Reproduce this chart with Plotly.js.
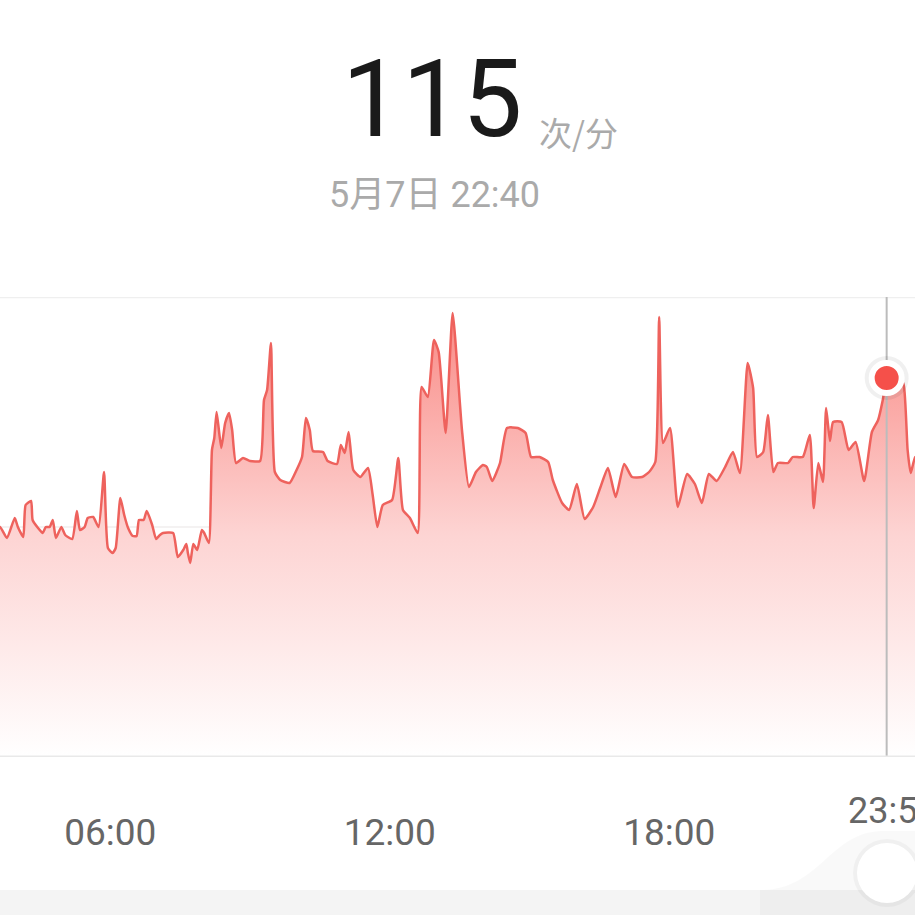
<!DOCTYPE html>
<html>
<head>
<meta charset="utf-8">
<script src="https://cdn.plot.ly/plotly-3.0.1.min.js"></script>
<style>
html,body{margin:0;padding:0;background:#fff;}
#chart{width:915px;height:915px;}
</style>
</head>
<body>
<div id="chart"></div>
<script>
// time of day in minutes since 00:00
const minutes = [
 212,218,227,237,241,248,251,258,260,267,
 273,277,282,286,290,297,302,311,317,321,
 327,331,338,345,352,357,363,367,373,378,
 383,389,394,397,403,407,414,419,424,428,
 441,447,454,458,460,463,467,472,478,481,
 487,491,494,497,503,508,513,517,522,531,
 540,553,558,562,567,572,579,591,600,607,
 612,617,621,634,640,652,657,662,667,673,
 682,692,698,704,711,723,731,737,746,756,
 761,769,777,783,792,801,813,822,831,840,
 845,852,862,871,885,895,902,913,924,930,
 942,951,961,971,982,991,1001,1011,1022,1032,
 1045,1054,1062,1067,1072,1081,1091,1103,1113,1122,
 1131,1141,1152,1162,1171,1181,1188,1193,1201,1207,
 1214,1220,1233,1239,1252,1261,1266,1272,1278,1282,
 1287,1291,1302,1311,1320,1331,1341,1349,1355,1360,
 1372,1382,1387,1391,1397,1409
];
// heart rate, beats per minute
const bpm = [
 84.6,85.2,83.0,87.0,85.2,83.2,89.6,90.4,86.6,85.0,
 84.0,85.2,85.2,86.6,83.0,85.2,83.6,82.8,88.4,84.6,
 85.2,87.0,87.2,85.2,96.2,81.0,80.0,81.0,91.0,87.6,
 85.0,83.4,83.4,86.6,86.6,88.4,85.6,82.8,83.6,84.0,
 84.0,79.2,80.6,81.8,80.0,78.0,81.8,80.6,84.6,84.0,
 82.0,100.6,103.0,108.2,101.0,106.0,108.0,104.6,98.0,99.0,
 98.4,98.4,110.6,112.6,122.0,96.2,94.6,94.0,96.6,99.2,
 107.0,104.6,100.4,100.2,98.4,97.8,101.6,100.0,104.2,96.6,
 95.2,97.0,91.6,85.2,89.6,90.6,99.0,88.6,87.0,84.0,
 113.2,111.2,122.6,120.2,104.0,128.0,104.6,93.2,96.2,97.6,
 97.2,94.4,98.0,105.0,105.0,104.0,99.2,99.2,98.2,94.6,
 90.0,88.6,93.8,86.8,89.2,93.0,97.0,91.2,97.8,95.2,
 95.2,96.2,98.2,127.2,102.0,105.0,89.2,95.8,93.8,90.0,
 95.8,94.4,97.2,100.2,96.0,118.0,113.0,99.2,100.2,107.6,
 96.2,98.0,98.0,99.2,99.2,103.6,89.0,98.0,94.2,109.0,
 102.4,106.2,106.2,100.6,102.2,94.4,104.2,106.6,110.6,115.0,
 117.0,113.6,100.6,96.0,99.2,99.6
];
const tickMinutes = [360, 720, 1080];
const tickLabels = ["06:00", "12:00", "18:00"];
const selMinute = [1360];
const selBpm = [115];
const headValue = "115";
const headUnit = "次/分";
const headDate = "5月7日 22:40";
const endLabel = "23:59";

const X0 = 218, X1 = 1396.5, Y0 = 39.2, Y1 = 131.2;

// pixel -> paper helpers for decorations outside the plot
const PT = 297, PB = 757, W = 915;
const px = v => v / W;
const py = v => (PB - v) / (PB - PT);

const traces = [
  {
    x: minutes, y: bpm, type: 'scatter', mode: 'lines',
    line: {color: '#ee625d', width: 2.5, shape: 'spline', smoothing: 0.5},
    fill: 'tozeroy',
    fillgradient: {
      type: 'vertical', start: Y0, stop: 128,
      colorscale: [[0, '#ffffff'], [0.5, '#fdd4d3'], [1, '#f98a85']]
    },
    hoverinfo: 'skip'
  },
  {
    x: [selMinute[0], selMinute[0]], y: [Y0, Y1], type: 'scatter', mode: 'lines',
    line: {color: '#bcbcbc', width: 2}, hoverinfo: 'skip', cliponaxis: false
  },
  {
    x: selMinute, y: selBpm, type: 'scatter', mode: 'markers',
    marker: {size: 44, color: 'rgba(0,0,0,0.06)'}, hoverinfo: 'skip'
  },
  {
    x: selMinute, y: selBpm, type: 'scatter', mode: 'markers',
    marker: {size: 30, color: '#f5504a', line: {color: '#ffffff', width: 6}},
    hoverinfo: 'skip'
  }
];

const shapes = [
  {type: 'line', xref: 'paper', yref: 'y', x0: 0, x1: 1, y0: Y1, y1: Y1, line: {color: '#efefef', width: 2.5}, layer: 'below'},
  {type: 'line', xref: 'paper', yref: 'y', x0: 0, x1: 1, y0: (Y0 + Y1) / 2, y1: (Y0 + Y1) / 2, line: {color: '#f1eeee', width: 1.5}, layer: 'below'},
  {type: 'line', xref: 'paper', yref: 'y', x0: 0, x1: 1, y0: Y0, y1: Y0, line: {color: '#e9e9e9', width: 3}},
  // bottom band
  {type: 'rect', xref: 'paper', yref: 'paper', x0: 0, x1: 1.01, y0: py(890), y1: py(930), fillcolor: '#f4f4f4', line: {width: 0}},
  {type: 'path', xref: 'paper', yref: 'paper',
   path: `M ${px(760)},${py(890)} C ${px(820)},${py(890)} ${px(828)},${py(834)} ${px(880)},${py(831)} L ${px(930)},${py(831)} L ${px(930)},${py(930)} L ${px(760)},${py(930)} Z`,
   fillcolor: 'rgba(0,0,0,0.025)', line: {width: 0}},
  {type: 'circle', xref: 'paper', yref: 'paper', x0: px(853), x1: px(921), y0: py(839), y1: py(907), fillcolor: 'rgba(0,0,0,0.035)', line: {width: 0}},
  {type: 'circle', xref: 'paper', yref: 'paper', x0: px(857), x1: px(917), y0: py(843), y1: py(903), fillcolor: '#ffffff', line: {width: 0}}
];

const numFont = "Roboto, 'Noto Sans CJK SC', sans-serif";
const annotations = [
  {xref: 'paper', yref: 'paper', x: px(432), y: py(99), xanchor: 'center', yanchor: 'middle', showarrow: false,
   text: headValue, font: {family: numFont, size: 107, color: '#1a1a1a'}},
  {xref: 'paper', yref: 'paper', x: px(537), y: py(132), xanchor: 'left', yanchor: 'middle', showarrow: false,
   text: headUnit, font: {family: "'Noto Sans CJK SC', sans-serif", size: 33, color: '#aaaaaa'}},
  {xref: 'paper', yref: 'paper', x: px(434), y: py(195), xanchor: 'center', yanchor: 'middle', showarrow: false,
   text: headDate, font: {family: numFont, size: 36, color: '#aaaaaa'}},
  {xref: 'paper', yref: 'paper', x: px(846), y: py(811), xanchor: 'left', yanchor: 'middle', showarrow: false,
   text: endLabel, font: {family: numFont, size: 36, color: '#666666'}}
];

const layout = {
  width: 915, height: 915,
  margin: {l: 0, r: 0, t: PT, b: 915 - PB, pad: 0},
  paper_bgcolor: '#ffffff', plot_bgcolor: '#ffffff',
  showlegend: false, hovermode: false,
  xaxis: {range: [X0, X1], showgrid: false, zeroline: false, showline: false,
    tickvals: tickMinutes, ticktext: tickLabels, ticks: '', ticklabelstandoff: 50,
    tickfont: {family: numFont, size: 37, color: '#666666'}, fixedrange: true},
  yaxis: {range: [Y0, Y1], showgrid: false, zeroline: false, showline: false,
    showticklabels: false, ticks: '', fixedrange: true},
  shapes: shapes,
  annotations: annotations
};

Plotly.newPlot('chart', traces, layout, {staticPlot: true, displayModeBar: false});
</script>
</body>
</html>
